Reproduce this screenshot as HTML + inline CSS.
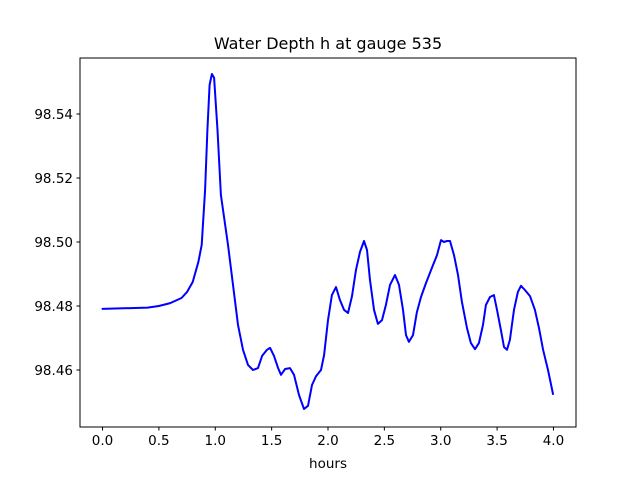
<!DOCTYPE html>
<html><head><meta charset="utf-8"><style>
body{margin:0;background:#fff;font-family:"Liberation Sans","DejaVu Sans",sans-serif}
svg text{font-family:"DejaVu Sans","Liberation Sans",sans-serif}
</style></head><body>
<svg id="chart" width="640" height="480" xmlns="http://www.w3.org/2000/svg">
<rect width="640" height="480" fill="#fff"/>
<text x="328" y="49" text-anchor="middle" font-size="16">Water Depth h at gauge 535</text>
<g id="plot"></g>
<rect x="80" y="58" width="496" height="369" fill="none" stroke="#000" stroke-width="1"/>
<text x="328" y="468" text-anchor="middle" font-size="13.5">hours</text>
</svg>
<script>
const hours=[0,0.4,0.5,0.6,0.7,0.75,0.8,0.85,0.88,0.91,0.93,0.95,0.97,0.99,1.02,1.05,1.113,1.157,1.202,1.246,1.290,1.335,1.379,1.415,1.459,1.486,1.521,1.557,1.583,1.619,1.663,1.698,1.743,1.787,1.823,1.858,1.894,1.938,1.965,2.000,2.035,2.071,2.106,2.142,2.177,2.213,2.248,2.284,2.319,2.346,2.373,2.408,2.443,2.479,2.514,2.550,2.594,2.630,2.665,2.692,2.718,2.754,2.789,2.825,2.869,2.922,2.967,3.002,3.029,3.055,3.082,3.118,3.153,3.188,3.233,3.268,3.304,3.339,3.375,3.401,3.437,3.472,3.499,3.534,3.561,3.588,3.614,3.650,3.685,3.712,3.747,3.792,3.835,3.872,3.908,3.952,3.996];
const depth=[98.4791,98.4795,98.4800,98.4809,98.4825,98.4844,98.4875,98.4938,98.4991,98.5163,98.5350,98.5491,98.5525,98.5513,98.5350,98.5147,98.4991,98.4866,98.4741,98.4663,98.4616,98.4600,98.4606,98.4644,98.4663,98.4669,98.4644,98.4606,98.4585,98.4603,98.4606,98.4585,98.4522,98.4478,98.4488,98.4553,98.4581,98.4600,98.4647,98.4756,98.4834,98.4859,98.4819,98.4788,98.4778,98.4831,98.4913,98.4969,98.5003,98.4975,98.4881,98.4788,98.4744,98.4756,98.4803,98.4866,98.4897,98.4866,98.4788,98.4709,98.4688,98.4709,98.4781,98.4828,98.4872,98.4919,98.4959,98.5006,98.5000,98.5003,98.5003,98.4959,98.4897,98.4813,98.4731,98.4684,98.4665,98.4684,98.4741,98.4803,98.4828,98.4834,98.4788,98.4725,98.4672,98.4663,98.4694,98.4788,98.4844,98.4863,98.4850,98.4831,98.4788,98.4731,98.4663,98.4600,98.4525];
const xTicks=[0,0.5,1,1.5,2,2.5,3,3.5,4];
const xTickLabels=["0.0","0.5","1.0","1.5","2.0","2.5","3.0","3.5","4.0"];
const yTicks=[98.46,98.48,98.50,98.52,98.54];
const yTickLabels=["98.46","98.48","98.50","98.52","98.54"];
const L=80,R=576,T=58,B=427,X0=-0.2,X1=4.2,Y0=98.44219,Y1=98.55750;
const sx=v=>L+(v-X0)/(X1-X0)*(R-L);
const sy=v=>B-(v-Y0)/(Y1-Y0)*(B-T);
const NS="http://www.w3.org/2000/svg";
const g=document.getElementById('plot');
function mk(t,a){const e=document.createElementNS(NS,t);for(const k in a)e.setAttribute(k,a[k]);g.appendChild(e);return e;}
xTicks.forEach((v,i)=>{
 const l=mk('line',{x1:sx(v),x2:sx(v),y1:B,y2:B+3.5,stroke:'#000'});
 
 
 const t=mk('text',{x:sx(v),y:B+18,'text-anchor':'middle','font-size':'13.5'});
 t.textContent=xTickLabels[i];
 
 
});
yTicks.forEach((v,i)=>{
 const l=mk('line',{x1:L-3.5,x2:L,y1:sy(v),y2:sy(v),stroke:'#000'});
 
 
 const t=mk('text',{x:L-7,y:sy(v)+5,'text-anchor':'end','font-size':'13.5'});
 t.textContent=yTickLabels[i];
 
 
});
const pts=hours.map((h,i)=>sx(h).toFixed(1)+','+sy(depth[i]).toFixed(1)).join(' ');
const line=mk('polyline',{points:pts,fill:'none',stroke:'#0000ff','stroke-width':2,'stroke-linejoin':'round','stroke-linecap':'round'});


</script>
</body></html>
